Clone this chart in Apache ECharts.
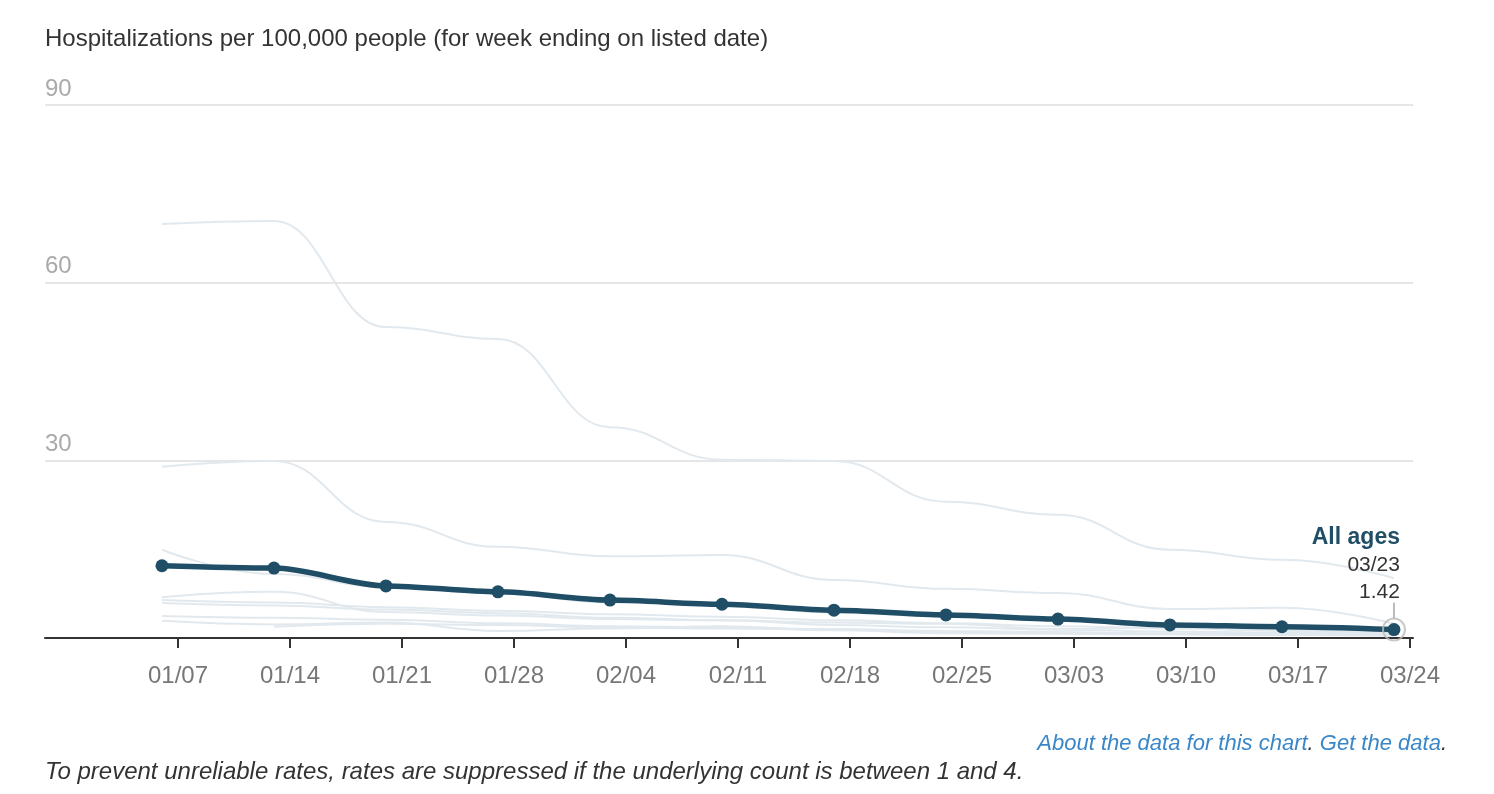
<!DOCTYPE html>
<html>
<head>
<meta charset="utf-8">
<script src="https://cdn.jsdelivr.net/npm/echarts@6/dist/echarts.min.js"></script>
<style>
html,body{margin:0;padding:0;background:#fff;}
#chart{width:1494px;height:794px;}
</style>
</head>
<body>
<div id="chart"></div>
<script>
// ---------- data ----------
const weekDates = ['2024-01-06','2024-01-13','2024-01-20','2024-01-27','2024-02-03','2024-02-10',
                   '2024-02-17','2024-02-24','2024-03-02','2024-03-09','2024-03-16','2024-03-23'];
const tickDates = ['2024-01-07','2024-01-14','2024-01-21','2024-01-28','2024-02-04','2024-02-11',
                   '2024-02-18','2024-02-25','2024-03-03','2024-03-10','2024-03-17','2024-03-24'];
const yTicks = [0, 30, 60, 90];

const allAges   = [12.2, 11.8, 8.8, 7.8, 6.4, 5.7, 4.7, 3.9, 3.2, 2.2, 1.9, 1.42];

const group75plus  = [69.9, 70.4, 52.5, 50.5, 35.6, 30.1, 29.9, 23.0, 20.8, 14.9, 13.2, 10.1];
const group65to74  = [28.9, 29.9, 19.6, 15.4, 13.8, 14.0, 9.8, 8.3, 7.6, 4.9, 5.1, 2.4];
const group50to64  = [14.9, 10.8, 8.6, 7.5, 6.0, 5.5, 4.3, 3.6, 3.0, 2.0, 1.7, 1.2];
const group0to4    = [6.9, 7.8, 4.4, 3.8, 3.2, 3.0, 2.6, 2.4, 1.5, 1.8, 1.2, 0.9];
const group35to49  = [6.4, 6.0, 5.2, 4.6, 4.0, 3.6, 3.0, 2.5, 2.0, 1.6, 1.3, 1.0];
const group18to34  = [5.9, 5.5, 4.8, 4.2, 3.4, 3.0, 2.2, 1.8, 1.4, 1.1, 0.9, 0.8];
const group5to11   = [3.7, 3.4, 3.1, 2.5, 2.0, 1.8, 1.5, 1.2, 1.0, 0.8, 0.7, 0.6];
const group12to17  = [2.9, 2.3, 2.6, 1.2, 1.6, 2.0, 1.3, 0.8, 0.7, 0.6, 0.5, 0.4];
const group25to34  = [null, 1.9, 2.4, 2.2, 1.8, 1.6, 1.4, 1.0, 0.8, 0.7, 0.5, 0.5];

const lightGroups = [group75plus, group65to74, group50to64, group0to4, group35to49,
                     group18to34, group5to11, group12to17, group25to34];

const titleText = 'Hospitalizations per 100,000 people (for week ending on listed date)';
const footNote  = 'To prevent unreliable rates, rates are suppressed if the underlying count is between 1 and 4.';
const seriesLabel = 'All ages';

// ---------- helpers ----------
const DAY = 86400000;
const EPOCH = Date.UTC(2024, 0, 1);
const dayNum = s => (Date.parse(s + 'T00:00:00Z') - EPOCH) / DAY;   // days since 2024-01-01
const mmdd = n => { const d = new Date(EPOCH + Math.round(n) * DAY); return String(d.getUTCMonth()+1).padStart(2,'0') + '/' + String(d.getUTCDate()).padStart(2,'0'); };
const pairs = arr => arr.map((v, i) => [dayNum(weekDates[i]), v]);
const tickDays = tickDates.map(dayNum);
const lastIdx = allAges.length - 1;

const FONT = '"Liberation Sans", Arial, Helvetica, sans-serif';
const DARK = '#1f4e66';
const LIGHT = '#e2e9ee';

const chart = echarts.init(document.getElementById('chart'), null, {renderer: 'canvas'});

const lightSeries = lightGroups.map((g, i) => ({
  type: 'line',
  name: 'group' + i,
  data: pairs(g),
  smooth: 0.45,
  smoothMonotone: 'x',
  showSymbol: false,
  silent: true,
  lineStyle: {color: LIGHT, width: 2},
  z: 1
}));

const option = {
  animation: false,
  backgroundColor: '#fff',
  textStyle: {fontFamily: FONT},
  title: [
    {text: titleText, left: 40, top: 22,
     textStyle: {fontFamily: FONT, fontSize: 24, fontWeight: 'normal', color: '#333'}},
    {text: '{l|About the data for this chart}{d|.} {l|Get the data}{d|.}', right: 42, top: 728,
     textStyle: {fontFamily: FONT, fontSize: 22, fontWeight: 'normal',
       rich: {l: {fontFamily: FONT, fontSize: 22, fontStyle: 'italic', color: '#3a87c8'},
              d: {fontFamily: FONT, fontSize: 22, fontStyle: 'italic', color: '#333'}}}},
    {text: footNote, left: 40, top: 755,
     textStyle: {fontFamily: FONT, fontSize: 24, fontStyle: 'italic', fontWeight: 'normal', color: '#333'}}
  ],
  grid: {left: 45, right: 81, top: 105, bottom: 156, containLabel: false},
  xAxis: {
    type: 'value',
    min: tickDays[0] - 8.31,
    max: tickDays[tickDays.length - 1] + 0.19,
    axisLine: {show: true, lineStyle: {color: '#333', width: 2}},
    axisTick: {show: true, customValues: tickDays, length: 10, lineStyle: {color: '#333', width: 2}},
    axisLabel: {customValues: tickDays, formatter: v => mmdd(v), color: '#777', fontSize: 24, fontFamily: FONT, margin: 26},
    splitLine: {show: false}
  },
  yAxis: {
    type: 'value',
    min: yTicks[0], max: yTicks[yTicks.length-1], interval: 30,
    axisLine: {show: false},
    axisTick: {show: false},
    axisLabel: {inside: true, showMinLabel: false, verticalAlign: 'bottom', margin: 0,
      padding: [0, 0, 4, 0], color: '#aaa', fontSize: 24, fontFamily: FONT},
    splitLine: {show: true, lineStyle: {color: '#e6e6e6', width: 2}}
  },
  series: [
    ...lightSeries,
    {
      type: 'line',
      name: seriesLabel,
      data: pairs(allAges),
      smooth: 0.3,
      smoothMonotone: 'x',
      symbol: 'circle',
      symbolSize: 13,
      showAllSymbol: true,
      itemStyle: {color: DARK},
      lineStyle: {color: DARK, width: 5.5},
      silent: true,
      z: 5,
      label: {
        show: true,
        position: 'top',
        align: 'right',
        distance: 17,
        offset: [6, 0],
        formatter: p => p.dataIndex === lastIdx
          ? '{a|' + seriesLabel + '}\n{b|' + mmdd(p.value[0]) + '}\n{b|' + p.value[1].toFixed(2) + '}'
          : '',
        rich: {
          a: {fontFamily: FONT, fontSize: 23, fontWeight: 'bold', color: DARK, lineHeight: 28, align: 'right'},
          b: {fontFamily: FONT, fontSize: 21, color: '#333', lineHeight: 27, align: 'right'}
        }
      }
    },
    {
      type: 'scatter',
      data: [[dayNum(weekDates[lastIdx]), allAges[lastIdx]]],
      symbol: 'circle',
      symbolSize: 22,
      silent: true,
      itemStyle: {color: 'rgba(255,255,255,0)', borderColor: '#bbb', borderWidth: 2},
      z: 6
    }
  ]
};

chart.setOption(option);

// leader line from the highlighted point up toward its label
const p = chart.convertToPixel({gridIndex: 0}, [dayNum(weekDates[lastIdx]), allAges[lastIdx]]);
chart.setOption({
  graphic: [{
    type: 'line', silent: true, z: 10,
    shape: {x1: p[0], y1: p[1] - 11, x2: p[0], y2: p[1] - 27},
    style: {stroke: '#bbb', lineWidth: 2}
  }]
});
</script>
</body>
</html>
